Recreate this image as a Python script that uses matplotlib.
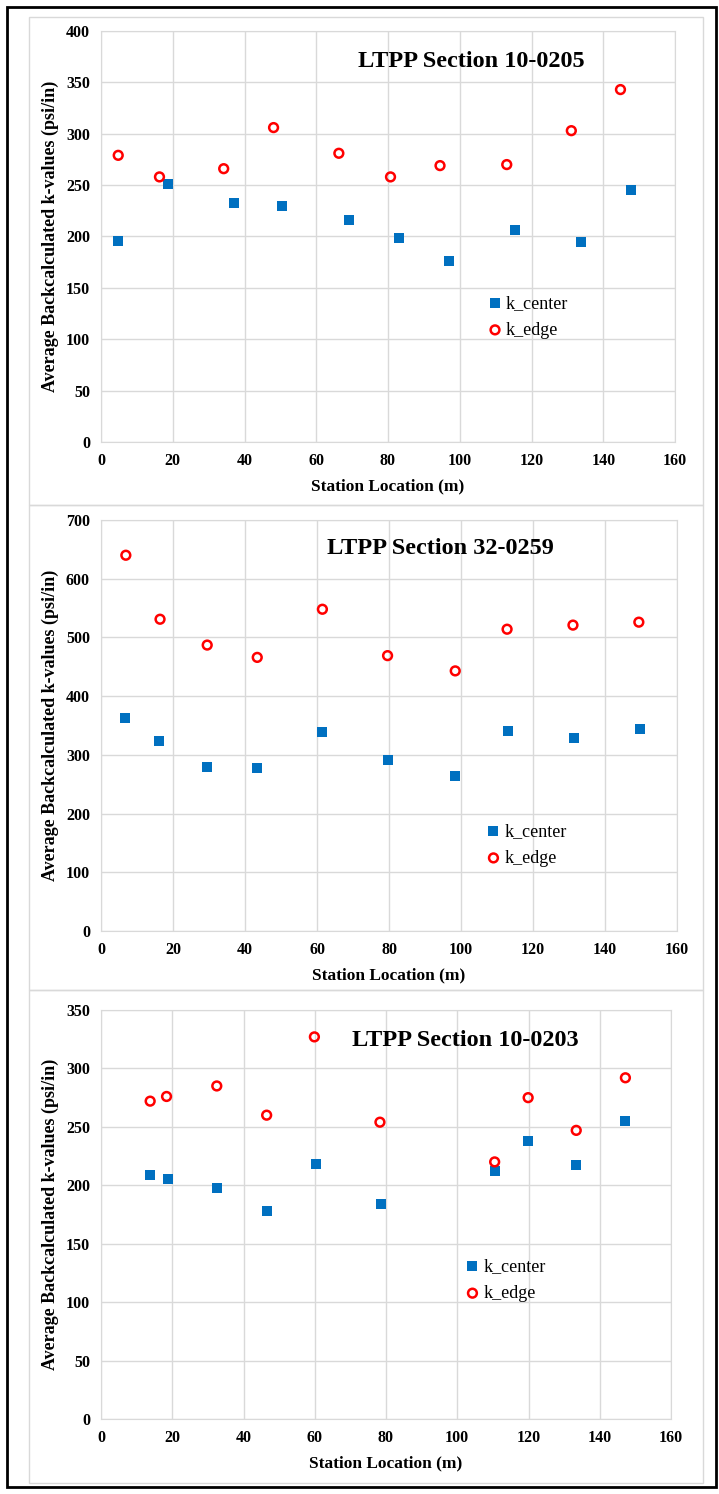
import matplotlib
matplotlib.use("Agg")
import matplotlib.pyplot as plt
from matplotlib.patches import Rectangle

plt.rcParams['font.family'] = ['Liberation Serif', 'DejaVu Serif']

# station locations (m) and average backcalculated k-values (psi/in)
sec1_x_center = [4.7, 18.8, 37.1, 50.5, 69.1, 83.2, 97.1, 115.5, 133.8, 147.8]
sec1_k_center = [196, 251, 233, 230, 216, 199, 176, 206, 195, 245]
sec1_x_edge = [4.8, 16.3, 34.2, 48.1, 66.3, 80.7, 94.5, 113.1, 131.1, 144.8]
sec1_k_edge = [279, 258, 266, 306, 281, 258, 269, 270, 303, 343]

sec2_x_center = [6.6, 16.1, 29.5, 43.4, 61.5, 79.8, 98.4, 113.1, 131.4, 149.7]
sec2_k_center = [363, 323, 279, 277, 339, 291, 264, 341, 328, 344]
sec2_x_edge = [6.9, 16.4, 29.5, 43.4, 61.5, 79.6, 98.4, 112.8, 131.1, 149.4]
sec2_k_edge = [640, 531, 487, 466, 548, 469, 443, 514, 521, 526]

sec3_x_center = [13.8, 18.7, 32.5, 46.5, 60.3, 78.6, 110.5, 119.9, 133.4, 147.2]
sec3_k_center = [209, 205, 198, 178, 218, 184, 212, 238, 217, 255]
sec3_x_edge = [13.8, 18.4, 32.5, 46.5, 59.9, 78.3, 110.5, 119.9, 133.4, 147.2]
sec3_k_edge = [272, 276, 285, 260, 327, 254, 220, 275, 247, 292]

sections = ["LTPP Section 10-0205", "LTPP Section 32-0259", "LTPP Section 10-0203"]
y_max = [400, 700, 350]
y_step = [50, 100, 50]

W, H = 719, 1494
fig = plt.figure(figsize=(W / 100, H / 100), dpi=100)

def px(x0, y0, x1, y1):
    # pixel box (top-left origin) -> figure fraction rect
    return [x0 / W, 1 - y1 / H, (x1 - x0) / W, (y1 - y0) / H]

# outer frame and the three chart boxes
fig.add_artist(Rectangle((7 / W, 1 - 1487 / H), 709 / W, 1480 / H, transform=fig.transFigure,
                         fill=False, edgecolor='black', linewidth=2))
for top, bot in [(17, 505), (505, 990), (990, 1483)]:
    fig.add_artist(Rectangle((29 / W, 1 - bot / H), 674 / W, (bot - top) / H, transform=fig.transFigure,
                             fill=False, edgecolor='#d9d9d9', linewidth=1))

axes_px = [(101, 31, 675, 442), (101, 520, 677, 931), (101, 1010, 671, 1419)]
title_pos = [(0.645, 0.925), (0.59, 0.93), (0.64, 0.925)]
legend_pos = [(0.655, 0.305), (0.65, 0.21), (0.62, 0.34)]
data = [(sec1_x_center, sec1_k_center, sec1_x_edge, sec1_k_edge),
        (sec2_x_center, sec2_k_center, sec2_x_edge, sec2_k_edge),
        (sec3_x_center, sec3_k_center, sec3_x_edge, sec3_k_edge)]

for i in range(3):
    ax = fig.add_axes(px(*axes_px[i]))
    xc, kc, xe, ke = data[i]
    ax.scatter(xc, kc, marker='s', s=42, color='#0070C0', linewidths=0, label='k_center', zorder=3)
    ax.scatter(xe, ke, marker='o', s=40, facecolors='none', edgecolors='#FF0000', linewidths=1.8,
               label='k_edge', zorder=3)
    ax.set_xlim(0, 160)
    ax.set_ylim(0, y_max[i])
    ax.set_xticks(range(0, 161, 20))
    ax.set_yticks(range(0, y_max[i] + 1, y_step[i]))
    ax.grid(True, color='#d9d9d9', linewidth=1)
    ax.set_axisbelow(True)
    for s in ax.spines.values():
        s.set_color('#d9d9d9')
    ax.tick_params(length=0, labelsize=11.5, pad=8)
    for lab in ax.get_xticklabels() + ax.get_yticklabels():
        lab.set_fontweight('bold')
    ax.set_xlabel('Station Location (m)', fontsize=12.5, fontweight='bold', labelpad=7)
    ax.set_ylabel('Average Backcalculated k-values (psi/in)', fontsize=13, fontweight='bold', labelpad=5)
    ax.text(title_pos[i][0], title_pos[i][1], sections[i], transform=ax.transAxes,
            ha='center', va='center', fontsize=17.5, fontweight='bold')
    ax.legend(loc='center left', bbox_to_anchor=legend_pos[i], frameon=False, fontsize=13,
              handletextpad=0.1, labelspacing=0.55, borderpad=0, handlelength=1)

fig.savefig('out.png', dpi=100)
